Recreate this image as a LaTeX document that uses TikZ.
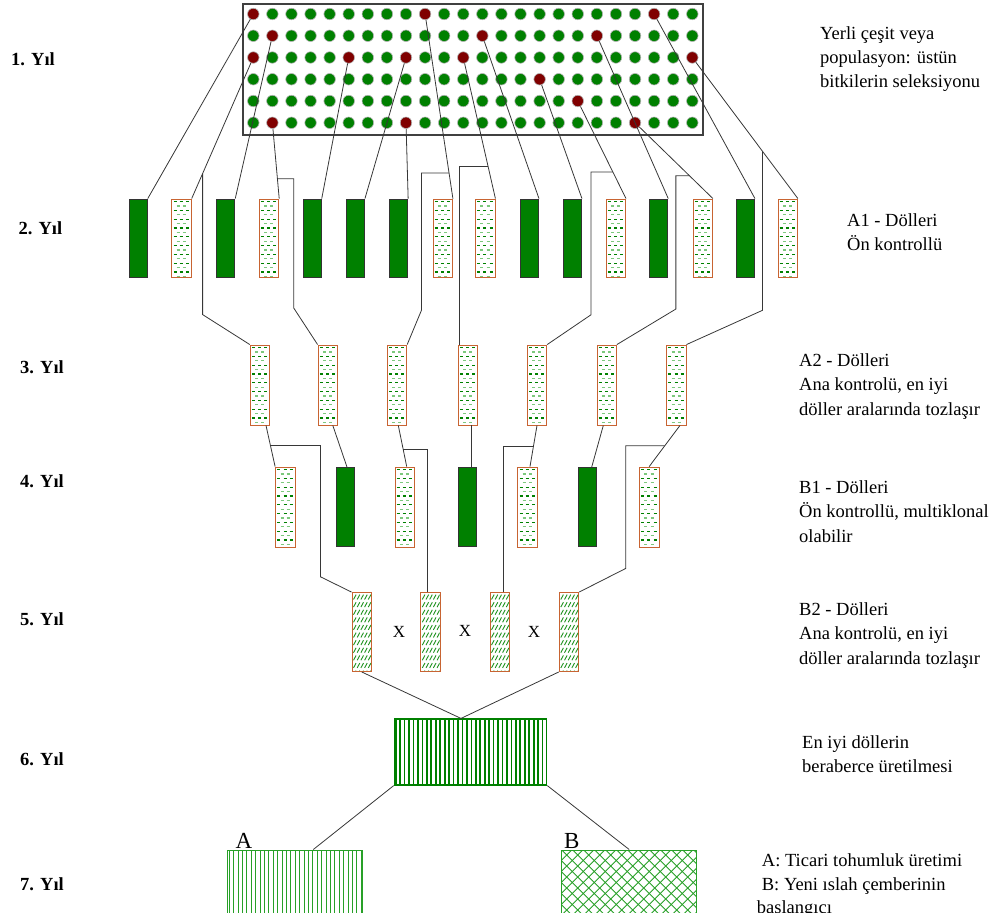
\documentclass[tikz,border=0pt]{standalone}
\usepackage{fontspec}
\setmainfont{Liberation Serif}
\usetikzlibrary{calc}
\definecolor{dkgreen}{RGB}{0,128,0}
\definecolor{ltgreen}{RGB}{125,200,125}
\definecolor{midgreen}{RGB}{40,160,40}
\definecolor{maroonred}{RGB}{128,0,0}
\definecolor{brick}{RGB}{200,100,50}
\definecolor{linegray}{RGB}{55,55,55}
\newcommand\markred[1]{\expandafter\def\csname isred#1\endcsname{}}
\markred{0-0}\markred{2-0}\markred{1-1}\markred{5-1}\markred{2-5}\markred{2-8}
\markred{5-8}\markred{0-9}\markred{2-11}\markred{1-12}\markred{3-15}\markred{4-17}
\markred{1-18}\markred{5-20}\markred{0-21}\markred{2-23}
\newcommand\inclip[1]{\clip ([xshift=1pt,yshift=-1pt]#1.north west) rectangle ([xshift=-1pt,yshift=1pt]#1.south east);}
\newcommand\dashpat[1]{\begin{scope}\inclip{#1}\begin{scope}[shift={(#1.north west)}]
  \foreach \k in {0,...,18}{%
    \pgfmathsetmacro\yy{3+4.4*\k}%
    \ifodd\k\relax
      \draw[ltgreen, line width=1.1pt] (5.4,\yy) -- (8.4,\yy) (11.6,\yy) -- (14.6,\yy);
    \else
      \draw[dkgreen, line width=1.1pt] (2.2,\yy) -- (5.2,\yy) (8.4,\yy) -- (11.4,\yy) (14.6,\yy) -- (17.6,\yy);
    \fi}
  \end{scope}\end{scope}}
\newcommand\hatchpat[1]{\begin{scope}\inclip{#1}\begin{scope}[shift={(#1.north west)}]
  \foreach \k in {0,...,10}{%
    \pgfmathsetmacro\yy{5+7.6*\k}%
    \foreach \i in {0,...,4}{%
      \pgfmathsetmacro\xx{2+3.7*\i}%
      \draw[dkgreen!75!ltgreen, line width=0.9pt] (\xx,\yy+2.4) -- (\xx+2.6,\yy-2.4);}}
  \end{scope}\end{scope}}
\newcommand\vstripes[5]{\begin{scope}\inclip{#1}\begin{scope}[shift={(#1.north west)}]
  \foreach \i in {0,...,#5}{\draw[#2, line width=#3] (2+#4*\i,0) -- ++(0,90);}
  \end{scope}\end{scope}}
\newcommand\xhatch[1]{\begin{scope}\inclip{#1}\begin{scope}[shift={(#1.north west)}]
  \foreach \i in {-10,...,22}{\draw[midgreen, line width=0.8pt] (11*\i,0) -- ++(100,100) (11*\i,0) -- ++(-100,100);}
  \end{scope}\end{scope}}
\tikzset{
  conn/.style={draw=linegray, line width=0.8pt},
  gdot/.style={circle, fill=dkgreen, draw=black!30, line width=0.6pt, minimum size=11.5pt, inner sep=0pt},
  rdot/.style={gdot, fill=maroonred},
  gbox/.style={draw=black!80, fill=dkgreen, line width=0.9pt, minimum width=18pt, minimum height=#1, inner sep=0pt},
  gbox/.default=78pt,
  pbox/.style={draw=brick, fill=white, line width=0.9pt, minimum width=19.5pt, minimum height=#1, inner sep=0pt},
  pbox/.default=78pt,
  hbox/.style={draw=brick, fill=white, line width=0.9pt, minimum width=19.5pt, minimum height=79pt, inner sep=0pt},
  vbox/.style={draw=dkgreen, fill=white, line width=1.2pt, inner sep=0pt},
  abox/.style={draw=midgreen, fill=white, line width=1pt, inner sep=0pt},
  bbox/.style={draw=midgreen, fill=white, line width=1pt, inner sep=0pt},
  lbl/.style={anchor=base west, inner sep=0pt, font=\fontsize{18.5}{22}\selectfont},
  yr/.style={anchor=base west, inner sep=0pt, font=\bfseries\fontsize{18.5}{22}\selectfont},
  xl/.style={inner sep=0pt, font=\fontsize{17}{20}\selectfont},
  big/.style={anchor=base west, inner sep=0pt, font=\fontsize{23}{25}\selectfont},
}
\begin{document}
\begin{tikzpicture}[x=1pt,y=-1pt]
\useasboundingbox (0,0) rectangle (999,922);
\begin{scope}
\clip (0,0) rectangle (999,912);
% population box
\node[draw=black!75, line width=1.3pt, minimum width=460pt, minimum height=131pt, inner sep=0pt] (pop) at (473,69.5) {};
\foreach \r in {0,...,5}{
  \foreach \c in {0,...,23}{
    \ifcsname isred\r-\c\endcsname\else
      \node[gdot] (g\r-\c) at ({253.3+19.087*\c},{14+21.75*\r}) {};
    \fi}}
\foreach \r/\c/\n in {0/0/1,2/0/2,1/1/3,5/1/4,2/5/5,2/8/6,5/8/7,0/9/8,2/11/9,1/12/10,3/15/11,4/17/12,1/18/13,5/20/14,0/21/15,2/23/16}{
  \node[rdot] (red\n) at ({253.3+19.087*\c},{14+21.75*\r}) {};}
% year 2
\node[gbox] (s1) at (138.3,238) {};
\node[pbox] (s2) at (181.5,238) {};
\node[gbox] (s3) at (225.8,238) {};
\node[pbox] (s4) at (269,238) {};
\node[gbox] (s5) at (312.3,238) {};
\node[gbox] (s6) at (355.5,238) {};
\node[gbox] (s7) at (398.7,238) {};
\node[pbox] (s8) at (442.7,238) {};
\node[pbox] (s9) at (485.2,238) {};
\node[gbox] (s10) at (529.5,238) {};
\node[gbox] (s11) at (572.5,238) {};
\node[pbox] (s12) at (615.8,238) {};
\node[gbox] (s13) at (658.8,238) {};
\node[pbox] (s14) at (702.7,238) {};
\node[gbox] (s15) at (745.5,238) {};
\node[pbox] (s16) at (787.7,238) {};
% year 3
\foreach \n/\x in {1/260,2/327.8,3/397,4/468,5/537,6/606.7,7/676.3}{
  \node[pbox=80pt] (t\n) at (\x,385) {};}
% year 4
\node[pbox=80pt] (u1) at (285.3,507) {};
\node[gbox=79pt] (u2) at (345.5,507) {};
\node[pbox=80pt] (u3) at (404.7,507) {};
\node[gbox=79pt] (u4) at (467,507) {};
\node[pbox=80pt] (u5) at (527.5,507) {};
\node[gbox=79pt] (u6) at (587.8,507) {};
\node[pbox=80pt] (u7) at (649.2,507) {};
% year 5
\foreach \n/\x in {1/361.7,2/430.5,3/499.7,4/569}{
  \node[hbox] (v\n) at (\x,632) {};}
\node[xl] (x1) at (399,632) {X};
\node[xl] (x2) at (465,631) {X};
\node[xl] (x3) at (534,632) {X};
% year 6
\node[vbox, minimum width=152.4pt, minimum height=66pt] (w) at (470.5,752) {};
% year 7
\node[abox, minimum width=134.6pt, minimum height=80pt] (qa) at (295,890) {};
\node[bbox, minimum width=135pt, minimum height=80pt] (qb) at (629.2,890) {};
\node[big] (la) at (235.5,848) {A};
\node[big] (lb) at (564,848) {B};
% fill patterns
\foreach \n in {s2,s4,s8,s9,s12,s14,s16,t1,t2,t3,t4,t5,t6,t7,u1,u3,u5,u7}{\dashpat{\n}}
\foreach \n in {v1,v2,v3,v4}{\hatchpat{\n}}
\vstripes{w}{dkgreen}{1.7pt}{4.45}{35}
\vstripes{qa}{midgreen}{1pt}{4.4}{31}
\xhatch{qb}
% connectors year 1 -> year 2
\foreach \n in {1,...,16}{\draw[conn] (red\n) -- (s\n.north east);}
% year 2 -> year 3
\coordinate (j2) at ($(red2)!0.823!(s2.north east)$);
\draw[conn] (j2) -- ++(0,141) -- (t1.north west);
\coordinate (j4) at ($(red4)!0.738!(s4.north east)$);
\draw[conn] (j4) -| ++(16.3,129.3) -- (t2.north west);
\coordinate (j8) at ($(red8)!0.861!(s8.north east)$);
\draw[conn] (j8) -| ++(-27.6,137.4) -- (t3.north east);
\coordinate (j9) at ($(red9)!0.771!(s9.north east)$);
\draw[conn] (j9) -| ([xshift=1.7pt]t4.north west);
\coordinate (j12) at ($(red12)!0.728!(s12.north east)$);
\draw[conn] (j12) -| ++(-21.8,142.7) -- (t5.north east);
\coordinate (j14) at ($(red14)!0.699!(s14.north east)$);
\draw[conn] (j14) -| ++(-13.6,133.3) -- (t6.north east);
\coordinate (j16) at ($(red16)!0.665!(s16.north east)$);
\draw[conn] (j16) -- ++(0,159) -- (t7.north east);
% year 3 -> year 4
\draw[conn] ([xshift=6pt]t1.south) -- (u1.north west);
\coordinate (k1) at ($([xshift=6pt]t1.south)!0.49!(u1.north west)$);
\draw[conn] (k1) -| ++(50,131.2) -- (v1.north west);
\draw[conn] ([xshift=5pt]t2.south) -- ([xshift=1.5pt]u2.north);
\draw[conn] ([xshift=1.3pt]t3.south) -- ([xshift=2pt]u3.north);
\coordinate (k3) at ($([xshift=1.3pt]t3.south)!0.586!([xshift=2pt]u3.north)$);
\draw[conn] (k3) -| ([xshift=-3.5pt]v2.north);
\draw[conn] ([xshift=3pt]t4.south) -- ([xshift=4pt]u4.north);
\draw[conn] (t5.south) -- ([xshift=2.5pt]u5.north);
\coordinate (k5) at ($(t5.south)!0.519!([xshift=2.5pt]u5.north)$);
\draw[conn] (k5) -| ([xshift=3.6pt]v3.north);
\draw[conn] ([xshift=-3.4pt]t6.south) -- ([xshift=3.9pt]u6.north);
\draw[conn] ([xshift=3.7pt]t7.south) -- (u7.north);
\coordinate (k7) at ($([xshift=3.7pt]t7.south)!0.496!(u7.north)$);
\draw[conn] (k7) -| ++(-39,122.6) -- (v4.north east);
% year 5 -> 6 -> 7
\draw[conn] (v1.south) -- ([xshift=-9.5pt]w.north) -- (v4.south west);
\draw[conn] (w.south west) -- ([xshift=18.3pt]qa.north);
\draw[conn] (w.south east) -- (qb.north);
% year labels
\node[yr] (y1) at (11,65) {1. Yıl};
\node[yr] (y2) at (18.3,234) {2. Yıl};
\node[yr] (y3) at (20,373) {3. Yıl};
\node[yr] (y4) at (20,487) {4. Yıl};
\node[yr] (y5) at (20,625) {5. Yıl};
\node[yr] (y6) at (20,765) {6. Yıl};
\node[yr] (y7) at (20,890) {7. Yıl};
% descriptions
\node[lbl] (d1a) at (820,39.5) {Yerli çeşit veya};
\node[lbl] (d1b) at (820,63.5) {populasyon: üstün};
\node[lbl] (d1c) at (820,87.5) {bitkilerin seleksiyonu};
\node[lbl] (d2a) at (847,226.5) {A1 - Dölleri};
\node[lbl] (d2b) at (847,250.5) {Ön kontrollü};
\node[lbl] (d3a) at (799,366) {A2 - Dölleri};
\node[lbl] (d3b) at (799,390.5) {Ana kontrolü, en iyi};
\node[lbl] (d3c) at (799,415) {döller aralarında tozlaşır};
\node[lbl] (d4a) at (799,493) {B1 - Dölleri};
\node[lbl] (d4b) at (799,517.5) {Ön kontrollü, multiklonal};
\node[lbl] (d4c) at (799,542) {olabilir};
\node[lbl] (d5a) at (799,615) {B2 - Dölleri};
\node[lbl] (d5b) at (799,639.5) {Ana kontrolü, en iyi};
\node[lbl] (d5c) at (799,664) {döller aralarında tozlaşır};
\node[lbl] (d6a) at (802,748) {En iyi döllerin};
\node[lbl] (d6b) at (802,772) {beraberce üretilmesi};
\node[lbl] (d7a) at (761.7,866) {A: Ticari tohumluk üretimi};
\node[lbl] (d7b) at (761.7,890) {B: Yeni ıslah çemberinin};
\node[lbl] (d7c) at (756.7,913) {başlangıcı};
\end{scope}
\end{tikzpicture}
\end{document}
